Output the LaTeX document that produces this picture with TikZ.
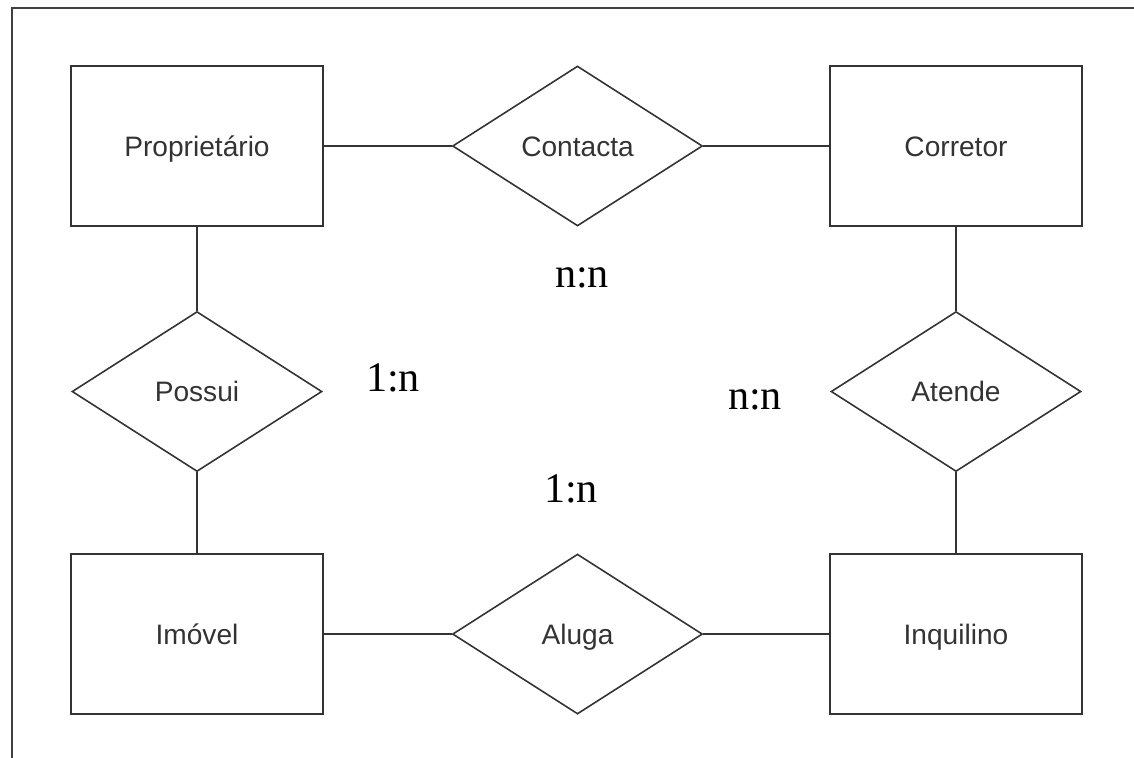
\documentclass[tikz,border=0pt]{standalone}
\usepackage{fontspec}
\setmainfont{Liberation Serif}
\newfontfamily\entfont{Liberation Sans}
\usepackage{tikz}
\usetikzlibrary{positioning,shapes.geometric}

\begin{document}
\begin{tikzpicture}[x=0.02cm, y=-0.02cm, line width=0.9pt, node distance=1.68cm and 2.54cm,
  entity/.style={draw=black!80, minimum width=5.04cm, minimum height=3.2cm, text height=11.5pt, text depth=0pt, text=black!80, font=\entfont\fontsize{16}{19}\selectfont},
  relation/.style={draw=black!80, diamond, inner sep=0pt, minimum width=5cm, minimum height=3.2cm, text height=11.5pt, text depth=0pt, text=black!80, font=\entfont\fontsize{16}{19}\selectfont},
  card/.style={inner sep=0pt, text=black, font=\fontsize{24}{28}\selectfont}]
  % Frame (only top and left edges show)
  \useasboundingbox (0,0) rectangle (1134,758);
  \draw[black!75, line width=1pt] (12,758) -- (12,8) -- (1134,8);

  % Entities and relations
  \node[entity] (prop) at (197,146) {Proprietário};
  \node[relation, right=2.56cm of prop] (contacta) {Contacta};
  \node[entity, right=2.52cm of contacta] (corretor) {Corretor};
  \node[relation, below=1.68cm of prop] (possui) {Possui};
  \node[entity, below=1.62cm of possui] (imovel) {Imóvel};
  \node[relation, right=2.56cm of imovel] (aluga) {Aluga};
  \node[entity, right=2.52cm of aluga] (inquilino) {Inquilino};
  \node[relation, below=1.68cm of corretor] (atende) {Atende};

  % Lines
  \draw[black!80] (prop) -- (contacta) -- (corretor);
  \draw[black!80] (imovel) -- (aluga) -- (inquilino);
  \draw[black!80] (prop) -- (possui) -- (imovel);
  \draw[black!80] (corretor) -- (atende) -- (inquilino);

  % Cardinalities
  \node[card] (cardcontacta) at (582,278) {n:n};
  \node[card] (cardpossui) at (393,378) {1:n};
  \node[card] (cardatende) at (755,400) {n:n};
  \node[card] (cardaluga) at (571,489) {1:n};
\end{tikzpicture}
\end{document}
